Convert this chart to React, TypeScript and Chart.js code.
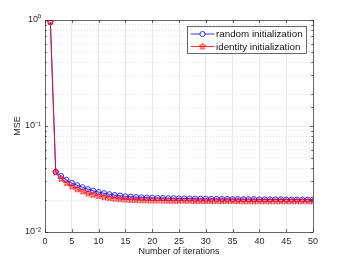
import React, { useEffect, useRef } from "react";
import { Chart, registerables } from "chart.js";

Chart.register(...registerables);

const iterations = [
  1, 2, 3, 4, 5, 6, 7, 8, 9, 10, 11, 12, 13, 14, 15, 16, 17, 18, 19, 20, 21, 22, 23, 24, 25,
  26, 27, 28, 29, 30, 31, 32, 33, 34, 35, 36, 37, 38, 39, 40, 41, 42, 43, 44, 45, 46, 47, 48, 49, 50,
];

const randomInit = [
  0.96, 0.0370, 0.0337, 0.0310, 0.0290, 0.0276, 0.0264, 0.0254, 0.0245, 0.0238,
  0.0232, 0.0227, 0.0223, 0.0220, 0.0217, 0.0215, 0.0213, 0.0212, 0.0211, 0.0210,
  0.0209, 0.0209, 0.0208, 0.0208, 0.0207, 0.0207, 0.0207, 0.0206, 0.0206, 0.0206,
  0.0205, 0.0205, 0.0205, 0.0205, 0.0204, 0.0204, 0.0204, 0.0204, 0.0204, 0.0203,
  0.0203, 0.0203, 0.0203, 0.0203, 0.0202, 0.0202, 0.0202, 0.0202, 0.0202, 0.0202,
];

const identityInit = [
  0.96, 0.0365, 0.0318, 0.0289, 0.0268, 0.0253, 0.0241, 0.0231, 0.0224, 0.0218,
  0.0213, 0.0209, 0.0206, 0.0204, 0.0202, 0.0201, 0.0200, 0.0199, 0.0199, 0.0198,
  0.0198, 0.0198, 0.0197, 0.0197, 0.0197, 0.0197, 0.0197, 0.0196, 0.0196, 0.0196,
  0.0196, 0.0196, 0.0196, 0.0196, 0.0196, 0.0196, 0.0195, 0.0195, 0.0195, 0.0195,
  0.0195, 0.0195, 0.0195, 0.0195, 0.0195, 0.0195, 0.0195, 0.0195, 0.0195, 0.0195,
];

const seriesLabels = ["random initialization", "identity initialization"];
const xTicks = [0, 5, 10, 15, 20, 25, 30, 35, 40, 45, 50];
const yDecades = [0.01, 0.1, 1];
const yDecadeLabels = ["10\u207B\u00B2", "10\u207B\u00B9", "10\u2070"];

const FONT = "'Liberation Sans', Arial, sans-serif";

function makeStar(color: string, size: number): HTMLCanvasElement {
  const c = document.createElement("canvas");
  c.width = size;
  c.height = size;
  const ctx = c.getContext("2d")!;
  const cx = size / 2;
  const cy = size / 2;
  const R = size / 2 - 0.6;
  const r = R * 0.42;
  ctx.beginPath();
  for (let i = 0; i < 10; i++) {
    const rad = i % 2 === 0 ? R : r;
    const a = -Math.PI / 2 + (i * Math.PI) / 5;
    const px = cx + rad * Math.cos(a);
    const py = cy + rad * Math.sin(a);
    if (i === 0) ctx.moveTo(px, py);
    else ctx.lineTo(px, py);
  }
  ctx.closePath();
  ctx.strokeStyle = color;
  ctx.lineWidth = 0.9;
  ctx.stroke();
  return c;
}

const isDecade = (v: number) => {
  const l = Math.log10(v);
  return Math.abs(l - Math.round(l)) < 1e-9;
};

const boxPlugin = {
  id: "matlabBox",
  afterDraw(chart: any) {
    const { ctx, chartArea } = chart;
    const { left, right, top, bottom } = chartArea;
    const xs = chart.scales.x;
    const ys = chart.scales.y;
    ctx.save();
    ctx.strokeStyle = "#262626";
    ctx.lineWidth = 0.7;
    ctx.beginPath();
    xTicks.forEach((v) => {
      const px = Math.round(xs.getPixelForValue(v)) + 0.5;
      ctx.moveTo(px, bottom);
      ctx.lineTo(px, bottom - 3);
      ctx.moveTo(px, top);
      ctx.lineTo(px, top + 3);
    });
    ys.ticks.forEach((t: any) => {
      const py = Math.round(ys.getPixelForValue(t.value)) + 0.5;
      const len = isDecade(t.value) ? 3 : 1.8;
      ctx.moveTo(left, py);
      ctx.lineTo(left + len, py);
      ctx.moveTo(right, py);
      ctx.lineTo(right - len, py);
    });
    ctx.stroke();
    ctx.strokeRect(Math.round(left) + 0.5, Math.round(top) + 0.5, Math.round(right - left), Math.round(bottom - top));
    ctx.restore();
  },
};

const legendPlugin = {
  id: "insideLegend",
  afterDraw(chart: any) {
    const { ctx } = chart;
    const bx = 187.5;
    const by = 26.5;
    const bw = 119;
    const bh = 27;
    ctx.save();
    ctx.fillStyle = "#ffffff";
    ctx.fillRect(bx, by, bw, bh);
    ctx.strokeStyle = "#262626";
    ctx.lineWidth = 0.7;
    ctx.strokeRect(bx, by, bw, bh);
    ctx.font = "9.8px " + FONT;
    ctx.textBaseline = "middle";
    ctx.textAlign = "left";
    chart.data.datasets.forEach((ds: any, i: number) => {
      const y = by + 7.5 + i * 12.5;
      ctx.strokeStyle = ds.borderColor;
      ctx.lineWidth = 0.8;
      ctx.beginPath();
      ctx.moveTo(bx + 3, y);
      ctx.lineTo(bx + 27, y);
      ctx.stroke();
      const mx = bx + 15;
      if (ds.pointStyle === "circle") {
        ctx.beginPath();
        ctx.fillStyle = "#ffffff";
        ctx.arc(mx, y, 2.6, 0, Math.PI * 2);
        ctx.fill();
        ctx.lineWidth = 0.8;
        ctx.stroke();
      } else if (ds.pointStyle instanceof HTMLCanvasElement) {
        const img = ds.pointStyle;
        ctx.drawImage(img, mx - img.width / 2, y - img.height / 2);
      }
      ctx.fillStyle = "#111111";
      ctx.fillText(ds.label, bx + 28.5, y + 0.5);
    });
    ctx.restore();
  },
};

export default function App() {
  const canvasRef = useRef<HTMLCanvasElement | null>(null);

  useEffect(() => {
    if (!canvasRef.current) return;
    const star = makeStar("#ff0000", 8);
    const chart = new Chart(canvasRef.current, {
      type: "line",
      data: {
        datasets: [
          {
            label: seriesLabels[0],
            data: iterations.map((x, i) => ({ x, y: randomInit[i] })),
            borderColor: "#0000ff",
            backgroundColor: "#0000ff",
            borderWidth: 0.8,
            pointStyle: "circle",
            pointRadius: 2.6,
            pointBorderWidth: 0.8,
            pointBackgroundColor: "rgba(0,0,0,0)",
            pointBorderColor: "#0000ff",
            tension: 0,
            order: 1,
          },
          {
            label: seriesLabels[1],
            data: iterations.map((x, i) => ({ x, y: identityInit[i] })),
            borderColor: "#ff0000",
            backgroundColor: "#ff0000",
            borderWidth: 0.8,
            pointStyle: star as any,
            pointRadius: 3,
            tension: 0,
            order: 0,
          },
        ],
      },
      options: {
        animation: false,
        responsive: false,
        maintainAspectRatio: false,
        devicePixelRatio: 1,
        layout: { padding: { left: 0, top: 20, right: 33, bottom: 0 } },
        plugins: {
          legend: { display: false },
          tooltip: { enabled: false },
        },
        scales: {
          x: {
            type: "linear",
            min: 0,
            max: 50,
            afterFit: (s: any) => {
              s.height = 28;
            },
            afterBuildTicks: (s: any) => {
              s.ticks = xTicks.map((v) => ({ value: v }));
            },
            ticks: {
              font: { family: FONT, size: 9 },
              color: "#262626",
              padding: 4,
              maxRotation: 0,
              autoSkip: false,
            },
            grid: {
              color: (c: any) => (c.tick && (c.tick.value === 0 || c.tick.value === 50) ? "rgba(0,0,0,0)" : "#e3e3e3"),
              lineWidth: 0.8,
              drawTicks: false,
            },
            border: { display: false },
            title: {
              display: true,
              text: "Number of iterations",
              font: { family: FONT, size: 9 },
              color: "#262626",
              padding: { top: 0, bottom: 3 },
            },
          },
          y: {
            type: "logarithmic",
            min: 0.01,
            max: 1,
            afterFit: (s: any) => {
              s.width = 45;
            },
            ticks: {
              font: { family: FONT, size: 9 },
              color: "#262626",
              padding: 4,
              autoSkip: false,
              callback: (v: any) => {
                const idx = yDecades.findIndex((d) => Math.abs(d - Number(v)) < 1e-12);
                return idx >= 0 ? yDecadeLabels[idx] : "";
              },
            },
            grid: {
              color: (c: any) =>
                c.tick && (c.tick.value === 0.01 || c.tick.value === 1)
                  ? "rgba(0,0,0,0)"
                  : c.tick && isDecade(c.tick.value)
                  ? "#e0e0e0"
                  : "#d6d6d6",
              lineWidth: 0.8,
              drawTicks: false,
            },
            border: {
              display: false,
              dash: (c: any) => (c.tick && !isDecade(c.tick.value) ? [1, 2] : []),
            } as any,
            title: {
              display: true,
              text: "MSE",
              font: { family: FONT, size: 9 },
              color: "#262626",
              padding: { top: 12, bottom: 0 },
            },
          },
        },
      },
      plugins: [boxPlugin, legendPlugin],
    });
    return () => chart.destroy();
  }, []);

  return (
    <div style={{ position: "fixed", left: 0, top: 0, width: 346, height: 260, background: "#ffffff" }}>
      <canvas ref={canvasRef} width={346} height={260} style={{ width: 346, height: 260 }} />
    </div>
  );
}
